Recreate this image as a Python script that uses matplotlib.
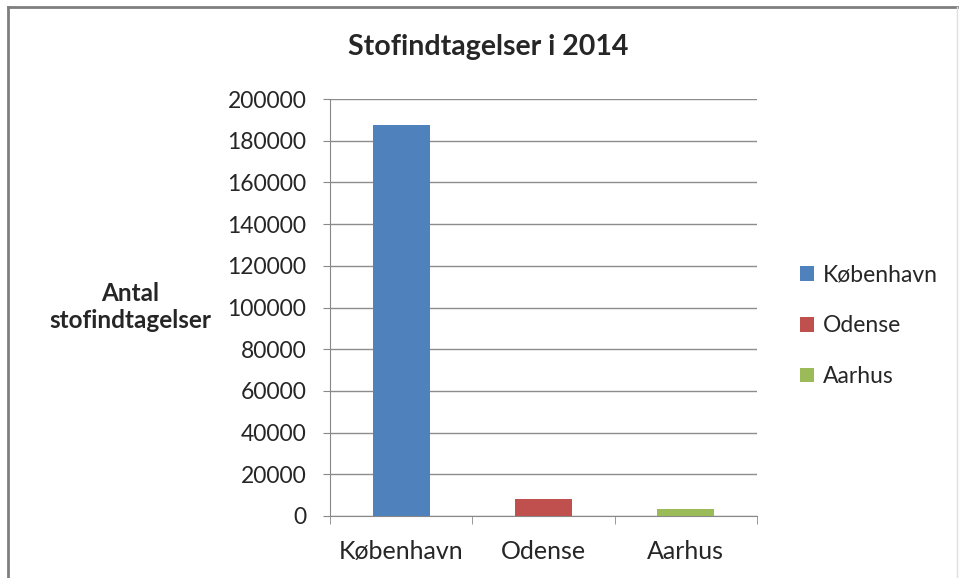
import matplotlib
matplotlib.use("Agg")
import matplotlib.pyplot as plt
from matplotlib.patches import Patch
from matplotlib.lines import Line2D

# data
cities = ["København", "Odense", "Aarhus"]
counts = [187500, 8000, 3500]
colors = ["#4F81BD", "#C0504D", "#9BBB59"]
yticks = list(range(0, 200001, 20000))

plt.rcParams['font.family'] = ['Lato', 'DejaVu Sans']
txt = "#262626"

fig = plt.figure(figsize=(9.59, 5.78), dpi=100)
ax = fig.add_axes([330/959, (578-516)/578, 427/959, (516-99)/578])

x = range(len(cities))
ax.bar(x, counts, width=0.4, color=colors, zorder=3)
ax.set_xlim(-0.5, 2.5)
ax.set_ylim(0, 200000)
ax.set_yticks(yticks)
ax.set_yticklabels([str(v) for v in yticks], fontsize=16.5, color=txt)
ax.set_xticks(list(x))
ax.set_xticklabels(cities, fontsize=18, color=txt)
ax.tick_params(axis='x', length=0, pad=17)
ax.tick_params(axis='y', length=5, color="#888888", pad=12)
# category boundary ticks
ax.set_xticks([-0.5, 0.5, 1.5, 2.5], minor=True)
ax.tick_params(axis='x', which='minor', length=6, color="#888888")
ax.grid(axis='y', color="#8c8c8c", linewidth=1, zorder=0)
for s in ['top', 'right']:
    ax.spines[s].set_visible(False)
ax.spines['left'].set_color("#888888")
ax.spines['bottom'].set_color("#888888")

fig.text(488/959, 1 - 47/578, "Stofindtagelser i 2014", ha='center', va='center',
         fontsize=20.5, fontweight='bold', color=txt)
fig.text(130/959, 1 - 307/578, "Antal\nstofindtagelser", ha='center', va='center',
         fontsize=17.5, fontweight='bold', color=txt, linespacing=1.25)

handles = [Patch(facecolor=c) for c in colors]
fig.legend(handles, cities, loc='center left', bbox_to_anchor=(800/959, 1 - 326/578),
           frameon=False, fontsize=16.5, handlelength=0.6, handleheight=0.6,
           handletextpad=0.4, labelspacing=1.3, labelcolor=txt,
           borderpad=0, borderaxespad=0)

# chart border
fig.add_artist(Line2D([8/959, 8/959], [0, 1 - 7/578], transform=fig.transFigure, color="#7f7f7f", lw=2))
fig.add_artist(Line2D([8/959, 957/959], [1 - 7/578, 1 - 7/578], transform=fig.transFigure, color="#7f7f7f", lw=2))
fig.add_artist(Line2D([957/959, 957/959], [0, 1 - 7/578], transform=fig.transFigure, color="#e0e0e0", lw=1))

fig.savefig("out.png", dpi=100)
